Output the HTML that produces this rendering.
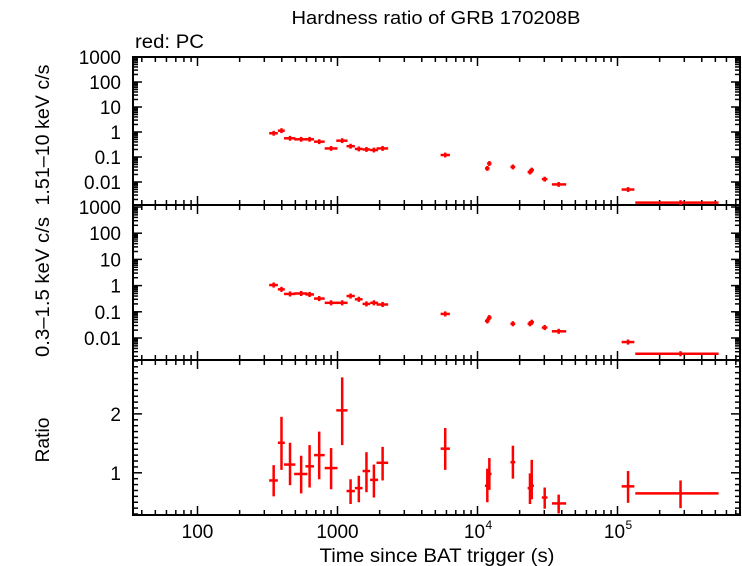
<!DOCTYPE html>
<html><head><meta charset="utf-8"><style>
html,body{margin:0;padding:0;background:#fff}
svg{display:block;font-family:"Liberation Sans",sans-serif}
</style></head><body>
<svg id="chart" width="742" height="566" xmlns="http://www.w3.org/2000/svg">
<text x="436" y="24" font-size="18" text-anchor="middle" textLength="289" lengthAdjust="spacingAndGlyphs">Hardness ratio of GRB 170208B</text>
<text x="135" y="48" font-size="19" textLength="69" lengthAdjust="spacingAndGlyphs">red: PC</text>
<text x="437" y="562" font-size="19" text-anchor="middle" textLength="235" lengthAdjust="spacingAndGlyphs">Time since BAT trigger (s)</text>
<text transform="translate(49,135) rotate(-90)" font-size="19" text-anchor="middle" textLength="141" lengthAdjust="spacingAndGlyphs">1.51–10 keV c/s</text>
<text transform="translate(49,287) rotate(-90)" font-size="19" text-anchor="middle" textLength="140" lengthAdjust="spacingAndGlyphs">0.3–1.5 keV c/s</text>
<text transform="translate(49,440) rotate(-90)" font-size="19" text-anchor="middle" textLength="45" lengthAdjust="spacingAndGlyphs">Ratio</text>
<g id="g"></g>
</svg>
<script>
const times=[350,398,458,550,632,740,900,1080,1240,1420,1610,1820,2100,5880,11750,12150,17900,23700,24400,30200,38000,119000,282000];
const tLo=[325,375,415,490,590,680,810,980,1160,1330,1510,1710,1900,5450,11300,11700,17200,22800,23500,28800,34000,107000,134000];
const tHi=[375,420,500,610,680,810,1000,1180,1330,1510,1710,1950,2300,6350,12200,12600,18600,24600,25300,31600,43000,132000,527000];
const hard=[0.89,1.13,0.56,0.51,0.51,0.41,0.22,0.45,0.27,0.21,0.20,0.19,0.22,0.12,0.035,0.055,0.04,0.025,0.03,0.013,0.008,0.005,0.0015];
const soft=[1.05,0.72,0.48,0.50,0.46,0.32,0.22,0.22,0.40,0.30,0.20,0.22,0.19,0.083,0.045,0.06,0.035,0.035,0.04,0.025,0.018,0.007,0.0025];
const ratio=[0.87,1.51,1.14,0.98,1.11,1.30,1.08,2.06,0.69,0.74,1.03,0.88,1.17,1.41,0.78,0.98,1.18,0.74,0.78,0.58,0.48,0.77,0.65];
const ratioHi=[1.13,1.95,1.51,1.29,1.47,1.70,1.42,2.62,0.89,0.95,1.35,1.14,1.44,1.76,1.07,1.25,1.46,0.99,1.22,0.75,0.63,1.03,0.87];
const ratioLo=[0.60,1.05,0.79,0.65,0.75,0.89,0.72,1.47,0.47,0.50,0.67,0.58,0.87,1.05,0.50,0.71,0.90,0.47,0.55,0.39,0.31,0.49,0.40];
const countTicks=["1000","100","10","1","0.1","0.01"];
const ratioTicks=[1,2];

const NS="http://www.w3.org/2000/svg";
const g=document.getElementById('g');
const L=133,R=740;
function X(t){return 197.5+(Math.log10(t)-2)*140;}
const panels=[{top:57,bot:205,y:v=>57+(3-Math.log10(v))*25},
{top:205,bot:360,y:v=>207+(3-Math.log10(v))*26.2},
{top:360,bot:515,y:v=>472.8-(v-1)*58.9}];
function el(tag,a,name){const e=document.createElementNS(NS,tag);for(const k in a)e.setAttribute(k,a[k]);


g.appendChild(e);return e;}
function line(x1,y1,x2,y2,w,c,name){return el('line',{x1,y1,x2,y2,stroke:c,'stroke-width':w},name);}
panels.forEach((p,pi)=>{
  el('rect',{x:L,y:p.top,width:R-L,height:p.bot-p.top,fill:'none',stroke:'#000','stroke-width':2},'panel-frame');
  for(let d=1;d<=5;d++)for(let m=1;m<10;m++){const t=m*Math.pow(10,d);const x=X(t);if(x<L||x>R)continue;
    const len=m==1?9:5;
    line(x,p.top,x,p.top+len,1.5,'#000','x-tick');line(x,p.bot,x,p.bot-len,1.5,'#000','x-tick');}
});
[0,1].forEach(pi=>{const p=panels[pi];
  for(let e=-3;e<=3;e++)for(let m=1;m<10;m++){const v=m*Math.pow(10,e);const y=p.y(v);if(y<p.top||y>p.bot)continue;
    const len=m==1?9:5;line(L,y,L+len,y,1.5,'#000','y-tick');line(R,y,R-len,y,1.5,'#000','y-tick');}
  countTicks.forEach(s=>{const y=p.y(parseFloat(s));const t=el('text',{x:L-12,y:y+7,'font-size':19,'text-anchor':'end'},'y-tick-label');t.textContent=s;});
});
{const p=panels[2];
 for(let v=0.3;v<2.95;v+=0.1){const y=p.y(v);const maj=Math.abs(v-Math.round(v))<0.01;const len=maj?9:5;
   line(L,y,L+len,y,1.5,'#000','y-tick');line(R,y,R-len,y,1.5,'#000','y-tick');}
 ratioTicks.forEach(v=>{const t=el('text',{x:L-12,y:p.y(v)+7,'font-size':19,'text-anchor':'end'},'y-tick-label');t.textContent=v;});
}
[[100,'100'],[1000,'1000']].forEach(([t,s])=>{const e=el('text',{x:X(t),y:538,'font-size':19,'text-anchor':'middle'},'x-tick-label');e.textContent=s;});
[[1e4,'4'],[1e5,'5']].forEach(([t,s])=>{const e=el('text',{x:X(t)-3,y:538,'font-size':19,'text-anchor':'middle'},'x-tick-label');e.textContent='10';
  const u=el('text',{x:X(t)+8,y:529,'font-size':12},'x-tick-exponent');u.textContent=s;});
const red='#ff0000';
times.forEach((t,i)=>{
  const x=X(t),x1=X(tLo[i]),x2=X(tHi[i]);
  [[0,hard[i]],[1,soft[i]]].forEach(([pi,v])=>{const p=panels[pi];const y=p.y(v);
    line(x1,y,x2,y,2.5,red,pi?'soft-point':'hard-point');
    line(x,p.y(v*1.25),x,p.y(v/1.25),2.5,red,pi?'soft-errorbar':'hard-errorbar');});
  const p=panels[2];const y=p.y(ratio[i]);
  line(x1,y,x2,y,2.5,red,'ratio-point');
  line(x,p.y(ratioHi[i]),x,p.y(ratioLo[i]),2.5,red,'ratio-errorbar');
});
</script>
</body></html>
